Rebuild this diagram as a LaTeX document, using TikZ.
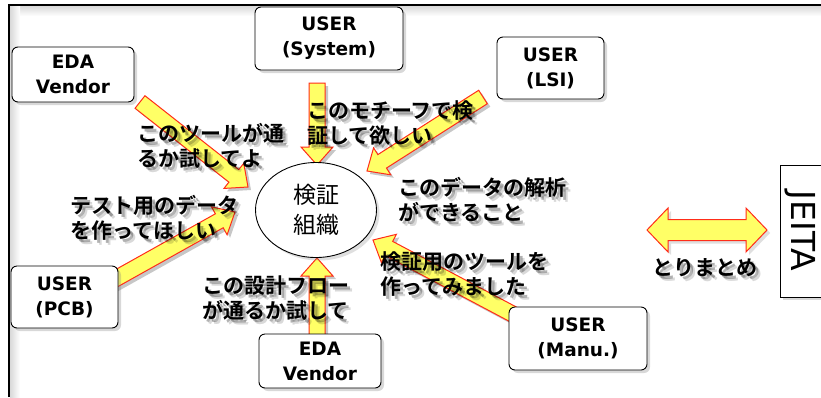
\documentclass[tikz,border=0pt]{standalone}
\usepackage{fontspec}
\setmainfont{DejaVu Sans}
\newfontfamily\jp{Noto Sans CJK JP}[BoldFont={Noto Sans CJK JP Bold}]
\usetikzlibrary{calc,shadows,shapes.geometric}
\definecolor{arrowfill}{RGB}{255,255,102}
\definecolor{arrowline}{RGB}{255,45,25}
\newcommand\boxfont{\fontsize{18.5}{25}\selectfont\bfseries}
\newcommand\lblfont{\fontsize{21}{25}\selectfont\jp\bfseries}
\newcommand\orgfont{\fontsize{23}{30}\selectfont\jp}
\tikzset{
  boxnode/.style={draw=black, line width=0.9pt, fill=white, rounded corners=6pt,
    inner sep=0pt, align=center, font=\boxfont,
    drop shadow={opacity=0.3, shadow xshift=3pt, shadow yshift=-3pt}},
  lbl/.style={inner sep=0pt, align=left, font=\lblfont},
  fatarrowstyle/.style={fill=arrowfill, draw=arrowline, line width=1pt, line join=miter},
  fatshadow/.style={fill=black, opacity=0.22},
}
\newcommand{\faPath}{(0pt,-8pt) -- (\faLenG pt-18pt,-8pt) -- (\faLenG pt-18pt,-16pt)
    -- (\faLenG pt,0pt) -- (\faLenG pt-18pt,16pt) -- (\faLenG pt-18pt,8pt) -- (0pt,8pt) -- cycle}
\newcommand{\fatarrow}[2]{%
  \path let \p1=(#1), \p2=(#2) in \pgfextra{%
    \pgfmathsetmacro{\faAng}{atan2((\y2)-(\y1),(\x2)-(\x1))}%
    \pgfmathsetmacro{\faLen}{veclen((\x2)-(\x1),(\y2)-(\y1))}%
    \global\let\faAngG\faAng \global\let\faLenG\faLen};
  \fill[fatshadow, shift={(#1)}, xshift=3pt, yshift=-3pt, rotate=\faAngG] \faPath;
  \draw[fatarrowstyle, shift={(#1)}, rotate=\faAngG] \faPath;
}
\newcommand{\jlabel}[3]{%
  \node[lbl, text=black, text opacity=0.15, anchor=west] (#1s2) at ($(#2)+(5,5)$) {#3};
  \node[lbl, text=black, text opacity=0.3, anchor=west] (#1s1) at ($(#2)+(3,3)$) {#3};
  \node[lbl, anchor=west] (#1) at (#2) {#3};
}
\begin{document}
\begin{tikzpicture}[x=1pt,y=-1pt]
\useasboundingbox (0,0) rectangle (821,397);
\fill[white] (0,0) rectangle (821,397);
% frame with inner shade
\shade[top color=black!15, bottom color=white] (10,6) rectangle (821,16);
\shade[left color=black!15, right color=white] (10,6) rectangle (20,397);
\draw[line width=2.2pt] (9,397) -- (9,5) -- (821,5);

% arrow end points
\coordinate (t1) at (140,102); \coordinate (h1) at (248,187);
\coordinate (t2) at (317,83);  \coordinate (h2) at (317,165);
\coordinate (t3) at (483,97);  \coordinate (h3) at (367,171);
\coordinate (t4) at (108,283); \coordinate (h4) at (235,212);
\coordinate (t5) at (317,345); \coordinate (h5) at (317,258);
\coordinate (t6) at (520,318); \coordinate (h6) at (373,240);
\fatarrow{t1}{h1}
\fatarrow{t2}{h2}
\fatarrow{t3}{h3}
\fatarrow{t4}{h4}
\fatarrow{t5}{h5}
\fatarrow{t6}{h6}

% boxes
\node[boxnode, minimum width=122pt, minimum height=55pt] (ev1) at (73,74.5) {EDA\\Vendor};
\node[boxnode, minimum width=148pt, minimum height=63pt] (us) at (329,38.5) {USER\\(System)};
\node[boxnode, minimum width=107pt, minimum height=62pt] (ul) at (550.5,68) {USER\\(LSI)};
\node[boxnode, minimum width=107pt, minimum height=62pt] (up) at (64.5,297) {USER\\(PCB)};
\node[boxnode, minimum width=122pt, minimum height=54pt] (ev2) at (320,361) {EDA\\Vendor};
\node[boxnode, minimum width=138pt, minimum height=63pt] (um) at (578,338.5) {USER\\(Manu.)};

% center ellipse
\node[draw=black, line width=0.9pt, fill=white, ellipse, inner sep=0pt,
  minimum width=121pt, minimum height=95pt, align=center, font=\orgfont,
  drop shadow={opacity=0.25, shadow xshift=3pt, shadow yshift=-3pt}] (org) at (316,210) {検証\\組織};

% labels
\jlabel{l1}{137,146}{このツールが通\\るか試してよ}
\jlabel{l2}{307,123}{このモチーフで検\\証して欲しい}
\jlabel{l3}{398,200}{このデータの解析\\ができること}
\jlabel{l4}{70,218}{テスト用のデータ\\を作ってほしい}
\jlabel{l5}{202,298}{この設計フロー\\が通るか試して}
\jlabel{l6}{380,274}{検証用のツールを\\作ってみました}

% double arrow and JEITA
\draw[fatarrowstyle, drop shadow={opacity=0.25, shadow xshift=3pt, shadow yshift=-3pt}]
  (647,230) -- (668,208) -- (668,219.5) -- (746,219.5) -- (746,208) -- (767,230)
  -- (746,252) -- (746,240.5) -- (668,240.5) -- (668,252) -- cycle;
\node[lbl, text opacity=0.15, anchor=center] (l7s2) at (710,273) {とりまとめ};
\node[lbl, text opacity=0.3, anchor=center] (l7s1) at (708,271) {とりまとめ};
\node[lbl, anchor=center] (l7) at (705,268) {とりまとめ};

\node[draw=black, line width=0.9pt, fill=white, minimum width=60pt, minimum height=132pt,
  inner sep=0pt, drop shadow={opacity=0.3, shadow xshift=3pt, shadow yshift=-3pt}] (jeita) at (810,231) {};
\node[rotate=-90, inner sep=0pt, font=\fontsize{33}{36}\selectfont] (jtext) at (800,231) {JEITA};
\end{tikzpicture}
\end{document}
